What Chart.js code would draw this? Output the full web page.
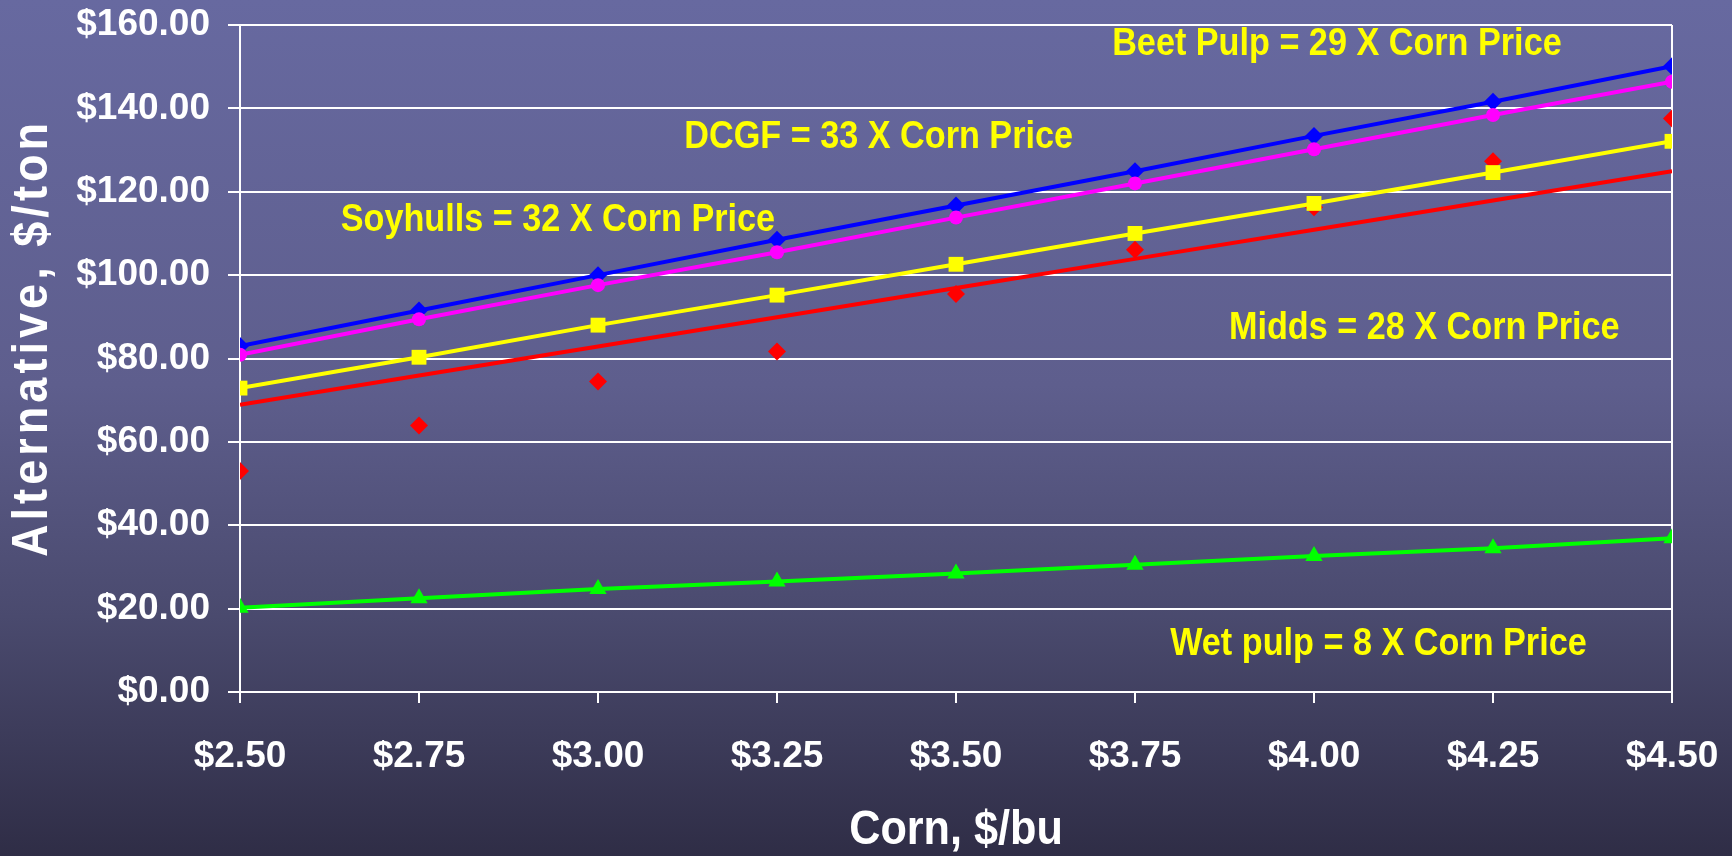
<!DOCTYPE html>
<html>
<head>
<meta charset="utf-8" />
<title>Alternative feed price vs corn price</title>
<script src="https://cdn.jsdelivr.net/npm/chart.js@4.4.0/dist/chart.umd.min.js"></script>
<style>
	html, body { margin: 0; padding: 0; }
	body {
		width: 1732px; height: 856px; overflow: hidden;
		background: linear-gradient(to bottom, #6769a0 0%, #5e5e8d 45%, #4a4a6e 72%, #2f2d46 100%);
	}
</style>
</head>
<body>
<canvas id="price_chart" width="1732" height="856"></canvas>

<script>
// corn price, $/bu
var cornPrice = [2.50, 2.75, 3.00, 3.25, 3.50, 3.75, 4.00, 4.25, 4.50];

// alternative feed price, $/ton
var dcgf        = [83.0, 91.5, 100.0, 108.5, 116.7, 124.9, 133.4, 141.6, 150.1];
var soyhulls    = [80.9, 89.4, 97.6, 105.5, 113.8, 122.0, 130.2, 138.4, 146.4];
var beetPulp    = [72.9, 80.3, 88.0, 95.2, 102.6, 110.0, 117.2, 124.6, 132.1];
var midds       = [68.9, 75.9, 82.9, 89.9, 96.9, 103.9, 110.9, 117.9, 124.9];
var middsActual = [53.0, 63.9, 74.5, 81.7, 95.5, 106.1, 116.3, 127.3, 137.6];
var wetPulp     = [20.2, 22.5, 24.7, 26.5, 28.4, 30.5, 32.6, 34.5, 36.9];

// notes on the plot: text, and where it sits in data units (corn $, $/ton)
var noteText = ['Beet Pulp = 29 X Corn Price', 'DCGF = 33 X Corn Price', 'Soyhulls = 32 X Corn Price',
	'Midds = 28 X Corn Price', 'Wet pulp = 8 X Corn Price'];
var noteX = [4.032, 3.392, 2.944, 4.154, 4.090];
var noteY = [155.4, 133.1, 113.2, 87.3, 11.3];

var FONT = "'Liberation Sans', Arial, sans-serif";

function toPoints(ys) {
	return cornPrice.map(function(x, i) { return {x: x, y: ys[i]}; });
}

function money(v) { return '$' + Number(v).toFixed(2); }

// text squeezed a bit sideways, like the original's narrow bold face
function narrowText(ctx, str, x, y, angle) {
	ctx.save();
	ctx.translate(x, y);
	if (angle) ctx.rotate(angle);
	ctx.scale(0.9, 1);
	ctx.fillText(str, 0, 0);
	ctx.restore();
}

// axis titles + yellow notes
var textPlugin = {
	id: 'texts',
	afterDraw: function(chart) {
		var ctx = chart.ctx, area = chart.chartArea;
		var xs = chart.scales.x, ys = chart.scales.y;
		ctx.save();
		ctx.fillStyle = '#ffffff';
		ctx.textAlign = 'center';
		ctx.textBaseline = 'middle';

		ctx.font = 'bold 48px ' + FONT;
		narrowText(ctx, 'Corn, $/bu', (area.left + area.right) / 2, 831);

		ctx.font = 'bold 50px ' + FONT;
		ctx.letterSpacing = '4.5px';
		narrowText(ctx, 'Alternative, $/ton', 33, 338, -Math.PI / 2);
		ctx.letterSpacing = '0px';

		ctx.fillStyle = '#ffff00';
		ctx.font = 'bold 38px ' + FONT;
		for (var i = 0; i < noteText.length; i++) {
			narrowText(ctx, noteText[i], xs.getPixelForValue(noteX[i]), ys.getPixelForValue(noteY[i]));
		}
		ctx.restore();
	}
};

var chart_data = {
	datasets: [
		{
			label: 'Soyhulls',
			data: toPoints(soyhulls),
			borderColor: '#ff00ff', backgroundColor: '#ff00ff',
			borderWidth: 4, pointStyle: 'circle', pointRadius: 7, pointBorderWidth: 0
		},
		{
			label: 'DCGF',
			data: toPoints(dcgf),
			borderColor: '#0000ff', backgroundColor: '#0000ff',
			borderWidth: 4, pointStyle: 'rectRot', pointRadius: 9, pointBorderWidth: 0
		},
		{
			label: 'Beet Pulp',
			data: toPoints(beetPulp),
			borderColor: '#ffff00', backgroundColor: '#ffff00',
			borderWidth: 4, pointStyle: 'rect', pointRadius: 10.5, pointBorderWidth: 0
		},
		{
			label: 'Midds (actual)',
			data: toPoints(middsActual),
			showLine: false,
			borderColor: '#ff0000', backgroundColor: '#ff0000',
			pointStyle: 'rectRot', pointRadius: 9, pointBorderWidth: 0
		},
		{
			label: 'Midds',
			data: toPoints(midds),
			borderColor: '#ff0000', backgroundColor: '#ff0000',
			borderWidth: 4, pointRadius: 0
		},
		{
			label: 'Wet pulp',
			data: toPoints(wetPulp),
			borderColor: '#00ff00', backgroundColor: '#00ff00',
			borderWidth: 4, pointStyle: 'triangle', pointRadius: 10, pointBorderWidth: 0
		}
	]
};

var lastX = cornPrice.length - 1;

var chart1 = new Chart(document.getElementById('price_chart'), {
	type: 'line',
	data: chart_data,
	plugins: [textPlugin],
	options: {
		responsive: false,
		animation: false,
		layout: { padding: { top: 25, right: 60, left: 0, bottom: 0 } },
		plugins: { legend: { display: false }, tooltip: { enabled: false } },
		elements: { line: { tension: 0 } },
		scales: {
			x: {
				type: 'linear',
				min: 2.5, max: 4.5,
				afterFit: function(scale) {
					scale.height = 164;
					scale.paddingLeft = 0;
					scale.paddingRight = 0;
				},
				afterBuildTicks: function(scale) {
					scale.ticks = cornPrice.map(function(v) { return {value: v}; });
				},
				border: { color: '#ffffff', width: 2 },
				grid: {
					color: function(c) { return c.index === lastX ? '#ffffff' : 'rgba(0,0,0,0)'; },
					tickColor: '#ffffff',
					lineWidth: 2,
					tickLength: 11
				},
				ticks: {
					color: '#ffffff',
					padding: 32,
					maxRotation: 0,
					font: { family: FONT, size: 37, weight: 'bold' },
					callback: money
				}
			},
			y: {
				min: 0, max: 160,
				afterFit: function(scale) {
					scale.width = 240;
					scale.paddingTop = 0;
					scale.paddingBottom = 0;
				},
				border: { color: '#ffffff', width: 2 },
				grid: { color: '#ffffff', lineWidth: 2, tickLength: 12 },
				ticks: {
					stepSize: 20,
					color: '#ffffff',
					padding: 18,
					font: { family: FONT, size: 37, weight: 'bold' },
					callback: money
				}
			}
		}
	}
});
</script>
</body>
</html>
